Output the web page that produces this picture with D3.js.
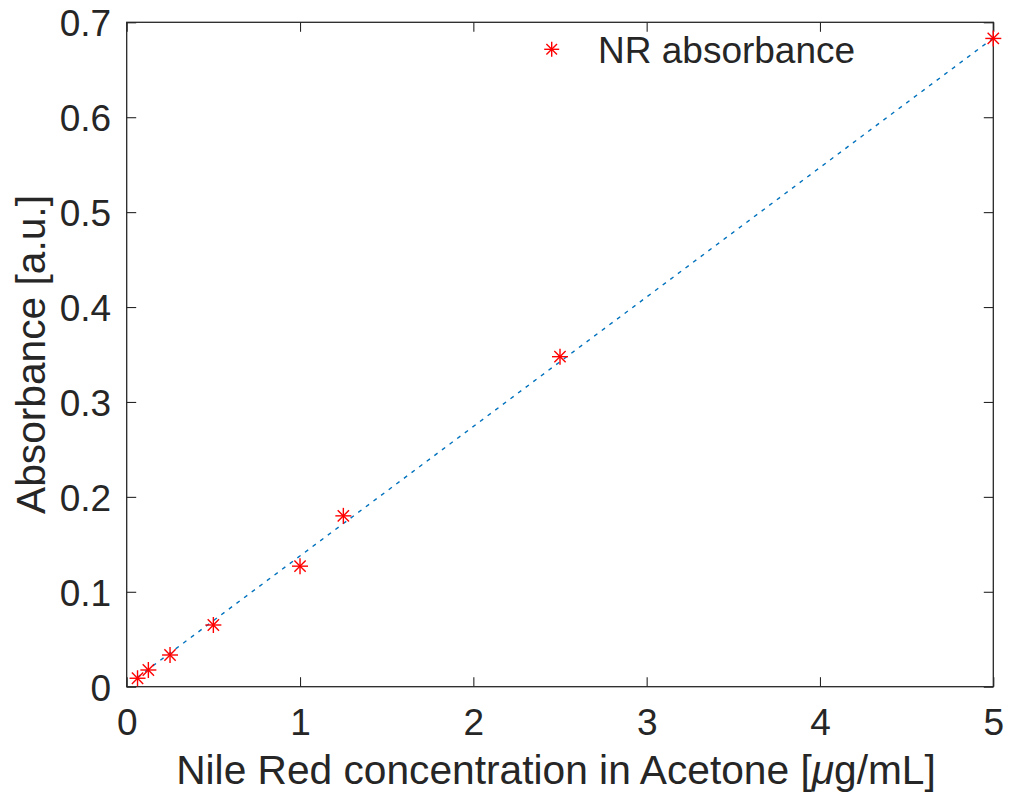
<!DOCTYPE html>
<html>
<head>
<meta charset="utf-8">
<script src="https://cdn.jsdelivr.net/npm/d3@7"></script>
<style>
  html, body { margin: 0; padding: 0; background: #fff; }
  svg { display: block; }
  text { font-family: "Liberation Sans", Arial, Helvetica, sans-serif; fill: #262626; }
</style>
</head>
<body>
<svg id="chart" width="1010" height="804"></svg>
<script>
// Data
const concentration = [0.0625, 0.125, 0.25, 0.5, 1, 1.25, 2.5, 5];
const absorbance    = [0.0089, 0.0176, 0.0334, 0.065, 0.127, 0.180, 0.3477, 0.683];
const fitX = [0.0625, 5];
const fitY = [0.0099, 0.6834];
const xTicks = [0, 1, 2, 3, 4, 5];
const yTicks = [0, 0.1, 0.2, 0.3, 0.4, 0.5, 0.6, 0.7];
const legendLabel = "NR absorbance";
const xLabel = "Nile Red concentration in Acetone [";
const yLabel = "Absorbance [a.u.]";

const svg = d3.select("#chart");
const mLeft = 126.7, mRight = 993.3, mTop = 22.3, mBottom = 686.7;
const x = d3.scaleLinear().domain([0, 5]).range([mLeft, mRight]);
const y = d3.scaleLinear().domain([0, 0.7]).range([mBottom, mTop]);

const axisColor = "#262626";
const tickFont = 37, labelFont = 40.7, tickLen = 9.5;

const fmt = d => d === 0 ? "0" : String(d);

// Axes with inner ticks (MATLAB style)
const gB = svg.append("g").attr("transform", `translate(0,${mBottom})`)
  .call(d3.axisBottom(x).tickValues(xTicks).tickSizeInner(-tickLen).tickSizeOuter(0).tickPadding(tickLen + 13).tickFormat(fmt));
const gT = svg.append("g").attr("transform", `translate(0,${mTop})`)
  .call(d3.axisTop(x).tickValues(xTicks).tickSizeInner(-tickLen).tickSizeOuter(0).tickFormat(""));
const gL = svg.append("g").attr("transform", `translate(${mLeft},0)`)
  .call(d3.axisLeft(y).tickValues(yTicks).tickSizeInner(-tickLen).tickSizeOuter(0).tickPadding(tickLen + 6).tickFormat(fmt));
const gR = svg.append("g").attr("transform", `translate(${mRight},0)`)
  .call(d3.axisRight(y).tickValues(yTicks).tickSizeInner(-tickLen).tickSizeOuter(0).tickFormat(""));

[gB, gT, gL, gR].forEach(g => {
  g.select(".domain").remove();
  g.selectAll(".tick line").attr("stroke", axisColor).attr("stroke-width", 1.1);
  g.selectAll("text").attr("fill", axisColor).style("font-size", tickFont + "px")
    .style("font-family", '"Liberation Sans", Arial, sans-serif');
});
gL.selectAll("text").attr("dy", "0.36em");

// Box
svg.append("rect").attr("x", mLeft).attr("y", mTop)
  .attr("width", mRight - mLeft).attr("height", mBottom - mTop)
  .attr("fill", "none").attr("stroke", axisColor).attr("stroke-width", 1.3);

// Fit line (dotted)
const line = d3.line().x(d => x(d[0])).y(d => y(d[1]));
svg.append("path").datum(d3.zip(fitX, fitY)).attr("d", line)
  .attr("fill", "none").attr("stroke", "#0072BD").attr("stroke-width", 1.4)
  .attr("stroke-dasharray", "4,5.5");

// Asterisk markers
function asterisk(g, cx, cy, r) {
  const s = g.append("g").attr("transform", `translate(${cx},${cy})`)
    .attr("stroke", "#FF0000").attr("stroke-width", 1.4).attr("fill", "none");
  const d = r * Math.SQRT1_2;
  s.append("line").attr("x1", -r).attr("x2", r).attr("y1", 0).attr("y2", 0);
  s.append("line").attr("x1", 0).attr("x2", 0).attr("y1", -r).attr("y2", r);
  s.append("line").attr("x1", -d).attr("x2", d).attr("y1", -d).attr("y2", d);
  s.append("line").attr("x1", -d).attr("x2", d).attr("y1", d).attr("y2", -d);
}
const pts = svg.append("g");
concentration.forEach((c, i) => asterisk(pts, x(c), y(absorbance[i]), 8));

// Legend (no box)
asterisk(svg, 551.7, 49.3, 7.5);
svg.append("text").attr("x", 598).attr("y", 62.5)
  .style("font-size", tickFont + "px").text(legendLabel);

// Axis labels
const xl = svg.append("text").attr("x", (mLeft + mRight) / 2 - 4).attr("y", 784)
  .attr("text-anchor", "middle").style("font-size", labelFont + "px");
xl.append("tspan").text(xLabel);
xl.append("tspan").style("font-style", "italic").text("\u03BC");
xl.append("tspan").text("g/mL]");

svg.append("text").attr("transform", `translate(45,${(mTop + mBottom) / 2}) rotate(-90)`)
  .attr("text-anchor", "middle").style("font-size", labelFont + "px").text(yLabel);
</script>
</body>
</html>
